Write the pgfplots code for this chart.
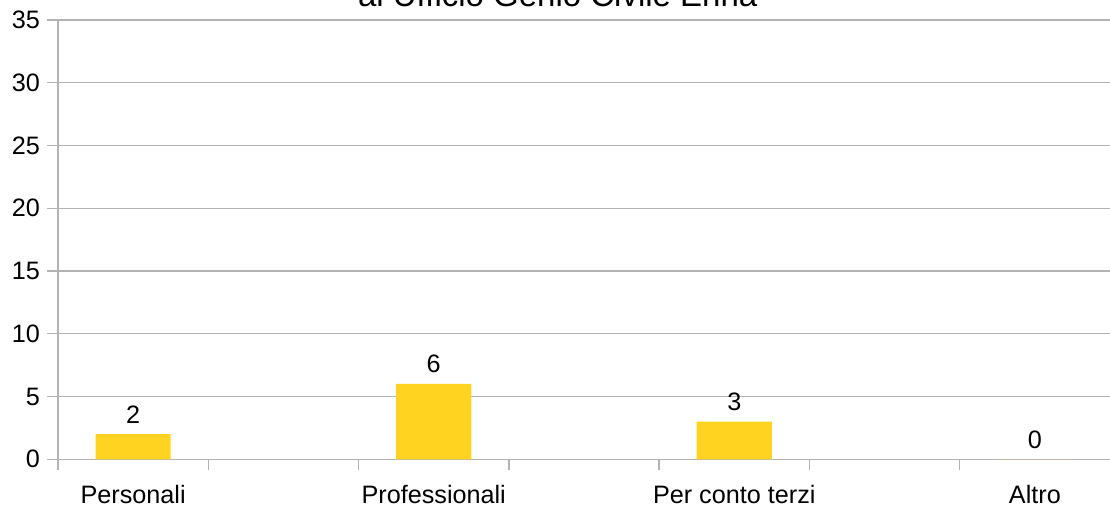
\documentclass[border=0pt]{standalone}
\usepackage{pgfplots}
\pgfplotsset{compat=1.18}
\usepackage{fontspec}
\setmainfont{Liberation Sans}
\definecolor{baryellow}{HTML}{FFD320}
\definecolor{gridgray}{HTML}{B3B3B3}
\begin{document}
\begin{tikzpicture}
\begin{axis}[
  scale only axis, width=526pt, height=219.65pt,
  xmin=-0.25, xmax=3.25, ymin=0, ymax=35,
  axis lines*=left,
  axis line style={gridgray, line width=0.7pt},
  ytick={0,5,...,35},
  ymajorgrids, grid style={gridgray, line width=0.7pt},
  xtick={0,1,2,3},
  xticklabels={Personali,Professionali,Per conto terzi,Altro},
  minor xtick={-0.25,0.25,0.75,1.25,1.75,2.25,2.75},
  tick align=outside,
  major tick length=5.5pt, minor tick length=5.5pt,
  tick style={gridgray, line width=0.7pt},
  major x tick style={draw=none},
  /pgf/number format/assume math mode=true,
  tick label style={font=\fontsize{12.6}{15}\selectfont, text=black},
  xticklabel style={anchor=base, yshift=-16.5pt},
  ybar, bar width=0.25, bar shift=0pt,
  nodes near coords,
  nodes near coords style={font=\fontsize{12.6}{15}\selectfont, text=black, anchor=base, yshift=5.5pt},
]
\addplot[fill=baryellow, draw=none] coordinates {(0,2) (1,6) (2,3) (3,0)};
\coordinate (sw) at (rel axis cs:0,0);
\coordinate (ne) at (rel axis cs:1,1);
\coordinate (tt) at (rel axis cs:0.475,1);
\end{axis}
\node[anchor=base, font=\fontsize{16.5}{20}\selectfont, yshift=6.5pt] at (tt) {al Ufficio Genio Civile Enna};
\pgfresetboundingbox
\useasboundingbox ([xshift=-29pt,yshift=-25.85pt]sw) rectangle ([yshift=10pt]ne);
\end{tikzpicture}
\end{document}
